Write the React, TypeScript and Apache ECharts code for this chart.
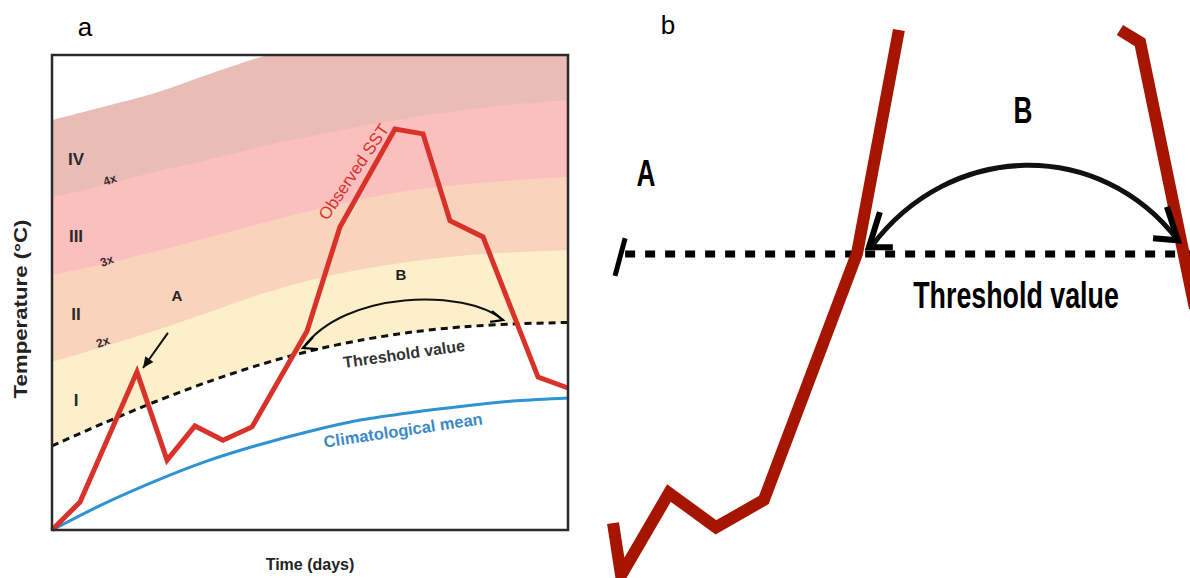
import React, { useEffect, useRef } from "react";
import * as echarts from "echarts";

// ---- Panel a: idealised marine heatwave ----
const days = [0, 3, 6, 9, 12, 15, 18, 21, 24, 27, 30];
const climatologicalMean = [0, 0.55, 1.03, 1.45, 1.79, 2.08, 2.32, 2.48, 2.61, 2.72, 2.78];
const thresholdValue = [1.77, 2.25, 2.7, 3.11, 3.47, 3.77, 4.0, 4.17, 4.28, 4.34, 4.37];
// upper edges of the category bands
const edgeIVTop = [8.63, 8.91, 9.2, 9.58, 9.94, 10.25, 10.5, 10.7, 10.85, 10.95, 11.0];
const edgeIVIII = [7.01, 7.26, 7.54, 7.79, 8.06, 8.29, 8.5, 8.69, 8.84, 8.97, 9.05];
const edgeIIIII = [5.37, 5.6, 5.87, 6.15, 6.44, 6.72, 6.97, 7.16, 7.28, 7.37, 7.43];
const edgeIII = [3.54, 3.86, 4.2, 4.57, 4.95, 5.26, 5.49, 5.66, 5.78, 5.85, 5.89];
const sstDays = [0, 1.63, 4.94, 6.69, 8.31, 9.94, 11.63, 14.83, 16.74, 19.94, 21.57, 23.14, 25.06, 28.26, 30];
const observedSST = [0, 0.59, 3.33, 1.47, 2.19, 1.89, 2.17, 4.19, 6.38, 8.44, 8.34, 6.51, 6.17, 3.22, 2.99];
const categoryNames = ["IV", "III", "II", "I"];
const multipleLabels = ["4x", "3x", "2x"];

// ---- Panel b: close-up of the event ----
const zoomRiseDays = [6.0, 6.28, 7.94, 9.57, 11.23, 14.46, 15.91];
const zoomRiseSST = [1.8, 1.04, 2.24, 1.74, 2.14, 5.74, 9.0];
const zoomFallDays = [23.57, 24.27, 26.17];
const zoomFallSST = [9.0, 8.82, 4.94];
const zoomThreshold = 5.73;
const zoomThresholdSpan = [6.42, 26];

const FONT = "'Liberation Sans', Arial, Helvetica, sans-serif";
const bandColors = ["#e9bcb6", "#fbbfbe", "#f9d3bb", "#fcefca"];
const SST_RED = "#d8322a";
const DEEP_RED = "#a51500";
const MEAN_BLUE = "#2f93d2";

type Pt = number[];

export default function App() {
  const ref = useRef<HTMLDivElement>(null);

  useEffect(() => {
    if (!ref.current) return;
    const chart = echarts.init(ref.current, undefined, { renderer: "svg" });

    const edges = [edgeIVTop, edgeIVIII, edgeIIIII, edgeIII];
    const bandSeries = edges.map((edge, i) => ({
      type: "line",
      xAxisIndex: 0,
      yAxisIndex: 0,
      data: days.map((d, j) => [d, edge[j]]),
      smooth: 0.3,
      symbol: "none",
      silent: true,
      lineStyle: { width: 0 },
      areaStyle: { color: bandColors[i], opacity: 1, origin: "start" },
    }));

    const hiddenAxis = {
      axisLine: { show: false }, axisTick: { show: false }, axisLabel: { show: false }, splitLine: { show: false },
    };

    chart.setOption({
      animation: false,
      backgroundColor: "#ffffff",
      grid: [
        { left: 52, top: 55, width: 516, height: 475 },
        { left: 613, top: 30, width: 577, height: 548 },
      ],
      xAxis: [
        {
          type: "value", gridIndex: 0, min: 0, max: 30,
          name: "Time (days)", nameLocation: "middle", nameGap: 26,
          nameTextStyle: { fontFamily: FONT, fontWeight: "bold", fontSize: 16, color: "#222" },
          ...hiddenAxis,
        },
        { type: "value", gridIndex: 1, min: 6, max: 26, ...hiddenAxis },
      ],
      yAxis: [
        { type: "value", gridIndex: 0, min: 0, max: 10, ...hiddenAxis },
        { type: "value", gridIndex: 1, min: 1, max: 9, ...hiddenAxis },
      ],
      series: [
        ...bandSeries,
        {
          type: "line", xAxisIndex: 0, yAxisIndex: 0, silent: true,
          data: days.map((d, j) => [d, thresholdValue[j]]),
          smooth: 0.3, symbol: "none", lineStyle: { width: 0 },
          areaStyle: { color: "#ffffff", opacity: 1, origin: "start" },
        },
        {
          name: "Climatological mean", type: "line", xAxisIndex: 0, yAxisIndex: 0,
          data: days.map((d, j) => [d, climatologicalMean[j]]),
          smooth: 0.3, symbol: "none", lineStyle: { color: MEAN_BLUE, width: 3 },
        },
        {
          name: "Threshold value", type: "line", xAxisIndex: 0, yAxisIndex: 0,
          data: days.map((d, j) => [d, thresholdValue[j]]),
          smooth: 0.3, symbol: "none", lineStyle: { color: "#111", width: 3, type: [7, 5] },
        },
        {
          name: "Observed SST", type: "line", xAxisIndex: 0, yAxisIndex: 0,
          data: sstDays.map((d, j) => [d, observedSST[j]]),
          symbol: "none", lineStyle: { color: SST_RED, width: 5, join: "miter" },
        },
        {
          type: "line", xAxisIndex: 1, yAxisIndex: 1,
          data: zoomThresholdSpan.map((d) => [d, zoomThreshold]),
          symbol: "none", lineStyle: { color: "#000", width: 7, type: [10, 10], cap: "butt" },
        },
        {
          type: "line", xAxisIndex: 1, yAxisIndex: 1,
          data: zoomRiseDays.map((d, j) => [d, zoomRiseSST[j]]),
          symbol: "none", lineStyle: { color: DEEP_RED, width: 12, join: "miter", cap: "butt" },
        },
        {
          type: "line", xAxisIndex: 1, yAxisIndex: 1,
          data: zoomFallDays.map((d, j) => [d, zoomFallSST[j]]),
          symbol: "none", lineStyle: { color: DEEP_RED, width: 12, join: "miter", cap: "butt" },
        },
      ],
    });

    const toA = (p: Pt) => chart.convertToPixel({ gridIndex: 0 }, p) as number[];
    const toB = (p: Pt) => chart.convertToPixel({ gridIndex: 1 }, p) as number[];

    const text = (t: string, x: number, y: number, size: number, extra: any = {}, styleExtra: any = {}) => ({
      type: "text", x, y, z: 50, ...extra,
      style: {
        text: t, fontSize: size, fontFamily: FONT, fontWeight: "bold", fill: "#222",
        align: "center", verticalAlign: "middle", ...styleExtra,
      },
    });

    const bezier = (p0: number[], c1: number[], c2: number[], p1: number[], width: number) => ({
      type: "bezierCurve", z: 40,
      shape: { x1: p0[0], y1: p0[1], cpx1: c1[0], cpy1: c1[1], cpx2: c2[0], cpy2: c2[1], x2: p1[0], y2: p1[1] },
      style: { stroke: "#111", lineWidth: width, fill: "none" },
    });

    const poly = (pts: number[][], width: number) => ({
      type: "polyline", z: 41,
      shape: { points: pts },
      style: { stroke: "#000", lineWidth: width, fill: "none", lineJoin: "miter", lineCap: "butt" },
    });

    // filled arrow head at tip, pointing away from "from"
    const head = (from: number[], tip: number[], len: number, half: number) => {
      const dx = tip[0] - from[0];
      const dy = tip[1] - from[1];
      const n = Math.hypot(dx, dy);
      const ux = dx / n, uy = dy / n;
      const bx = tip[0] - ux * len, by = tip[1] - uy * len;
      return {
        type: "polygon", z: 41,
        shape: { points: [tip, [bx - uy * half, by + ux * half], [bx + uy * half, by - ux * half]] },
        style: { fill: "#111" },
      };
    };

    const corner0 = toA([0, 10]);
    const corner1 = toA([30, 0]);
    const arrowAFrom = toA([6.74, 4.15]);
    const arrowATip = toA([5.29, 3.41]);
    const slashTop = toB([6.42, 5.96]);
    const slashBottom = toB([6.07, 5.41]);

    const bandLabelY = [159, 236, 314, 400];
    const multY = [180, 261, 342];
    const multX = [110, 107, 103];

    chart.setOption({
      graphic: [
        // panel frame
        {
          type: "rect", z: 45,
          shape: { x: corner0[0], y: corner0[1], width: corner1[0] - corner0[0], height: corner1[1] - corner0[1] },
          style: { stroke: "#2b2b2b", lineWidth: 2.5, fill: "none" },
        },
        // y-axis title
        text("Temperature (°C)", 20, 309, 19, { rotation: Math.PI / 2, scaleX: 1.17 }, { fill: "#222" }),
        // panel letters
        text("a", 85, 27, 26, {}, { fontWeight: "normal", fill: "#000" }),
        text("b", 668, 25, 26, {}, { fontWeight: "normal", fill: "#000" }),
        // category labels
        ...categoryNames.map((c, i) => text(c, 76, bandLabelY[i], 17, {}, { fill: "#2a2a2a" })),
        ...multipleLabels.map((m, i) => text(m, multX[i], multY[i], 12, { rotation: 0.35 }, { fill: "#3a2a2a" })),
        text("A", 177, 295, 15),
        text("B", 401, 274, 15),
        text("Observed SST", 354, 172, 17, { rotation: 0.977 }, { fontWeight: "normal", fill: SST_RED }),
        text("Threshold value", 404, 354, 16, { rotation: 0.14 }, { fill: "#333" }),
        text("Climatological mean", 403, 430, 16.5, { rotation: 0.148 }, { fill: "#3a89c6" }),
        // arrow A
        {
          type: "line", z: 41,
          shape: { x1: arrowAFrom[0], y1: arrowAFrom[1], x2: arrowATip[0], y2: arrowATip[1] },
          style: { stroke: "#111", lineWidth: 2 },
        },
        head(arrowAFrom, arrowATip, 11, 5),
        // duration arc B
        bezier(toA([14.59, 3.83]), toA([17.03, 5.05]), toA([24.01, 5.09]), toA([26.22, 4.42]), 2),
        poly([toA([15.17, 4.06]), toA([14.59, 3.83]), toA([15.47, 3.81])], 2.2),
        poly([toA([25.58, 4.61]), toA([26.22, 4.42]), toA([25.47, 4.38])], 2.2),

        // panel b annotations
        text("A", 646, 173, 37, { scaleX: 0.71 }, { fill: "#000" }),
        text("B", 1023, 110, 37, { scaleX: 0.71 }, { fill: "#000" }),
        text("Threshold value", 1016, 295, 37, { scaleX: 0.725 }, { fill: "#000" }),
        bezier(toB([14.94, 5.83]), toB([17.68, 7.39]), toB([22.88, 7.42]), toB([25.58, 5.93]), 5),
        poly([toB([15.25, 6.34]), toB([14.87, 5.83]), toB([15.7, 5.83])], 6),
        poly([toB([25.2, 6.42]), toB([25.58, 5.93]), toB([24.72, 5.96])], 6),
        {
          type: "line", z: 41,
          shape: { x1: slashTop[0], y1: slashTop[1], x2: slashBottom[0], y2: slashBottom[1] },
          style: { stroke: "#000", lineWidth: 5 },
        },
      ],
    });

    return () => chart.dispose();
  }, []);

  return (
    <div
      ref={ref}
      style={{ position: "fixed", left: 0, top: 0, width: 1190, height: 578, background: "#fff" }}
    />
  );
}
